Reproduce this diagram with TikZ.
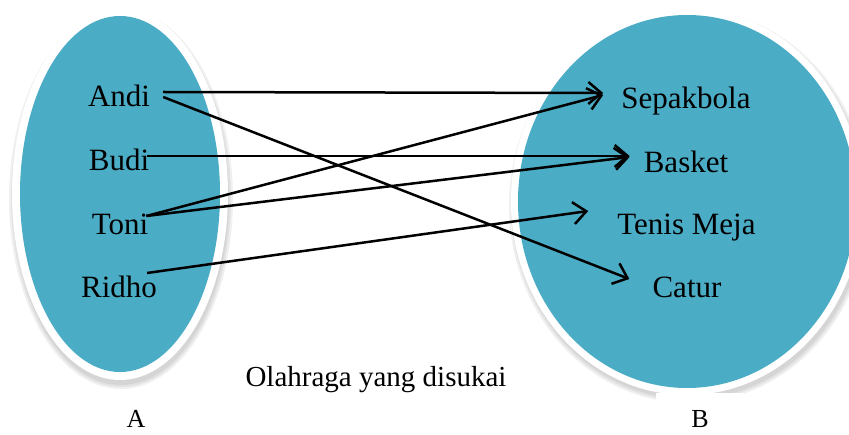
\documentclass[tikz,border=0pt]{standalone}
\usepackage{fontspec}
\setmainfont{Liberation Serif}
\usetikzlibrary{arrows.meta}
\definecolor{aqua}{HTML}{4BACC6}
\tikzset{
  lbl/.style={anchor=base, inner sep=0pt, font=\fontsize{31}{36}\selectfont},
  captiontext/.style={anchor=base, inner sep=0pt, font=\fontsize{29}{34}\selectfont},
  setname/.style={anchor=base, inner sep=0pt, font=\fontsize{26}{30}\selectfont},
  arr/.style={line width=2.5pt, -{Straight Barb[length=13pt,width=22pt,line width=2.5pt]}},
  shadowlayer/.style={fill=black, opacity=0.06}
}
\begin{document}
\begin{tikzpicture}[x=1pt,y=-1pt]
\useasboundingbox (0,0) rectangle (849,435);
\clip (0,0) rectangle (849,435);
% left set
\foreach \d in {0,2,4} {\fill[shadowlayer] (121,199) ellipse ({108+\d} and {186+\d});}
\fill[white] (120,194) ellipse (108 and 186);
\fill[aqua] (120,194) ellipse (100 and 178);
% right set
\foreach \d in {0,2,4} {\fill[shadowlayer] (689,206) ellipse ({176+\d} and {193+\d});}
\fill[white] (687,201.5) ellipse (176 and 193.5);
\fill[aqua] (687,201.5) ellipse (169 and 186.5);
% elements of A
\node[lbl] (andi) at (119,107) {Andi};
\node[lbl] (budi) at (119,171) {Budi};
\node[lbl] (toni) at (120,235) {Toni};
\node[lbl] (ridho) at (119,298) {Ridho};
% elements of B
\node[lbl] (sepak) at (686,109) {Sepakbola};
\node[lbl] (basket) at (686,173) {Basket};
\node[lbl] (tenis) at (686.5,235) {Tenis Meja};
\node[lbl] (catur) at (687,298) {Catur};
% captions
\node[captiontext] (caption) at (376,387) {Olahraga yang disukai};
\node[setname] (setA) at (136,428) {A};
\fill[white] (656,393) rectangle (744,435);
\node[setname] (setB) at (700,428) {B};
% relation
\draw[arr] ([xshift=13pt,yshift=15pt]andi.base east) -- ([xshift=-18pt,yshift=16pt]sepak.base west);
\draw[arr] ([xshift=13pt,yshift=10pt]andi.base east) -- ([xshift=-23pt,yshift=19pt]catur.base west);
\draw[arr] ([xshift=-2pt,yshift=15pt]budi.base east) -- ([xshift=-14pt,yshift=17pt]basket.base west);
\draw[arr] ([xshift=-2pt,yshift=19pt]toni.base east) -- ([xshift=-18pt,yshift=14pt]sepak.base west);
\draw[arr] ([xshift=-2pt,yshift=19pt]toni.base east) -- ([xshift=-14pt,yshift=16pt]basket.base west);
\draw[arr] ([xshift=-10pt,yshift=25pt]ridho.base east) -- ([xshift=-29pt,yshift=24pt]tenis.base west);
\end{tikzpicture}
\end{document}
